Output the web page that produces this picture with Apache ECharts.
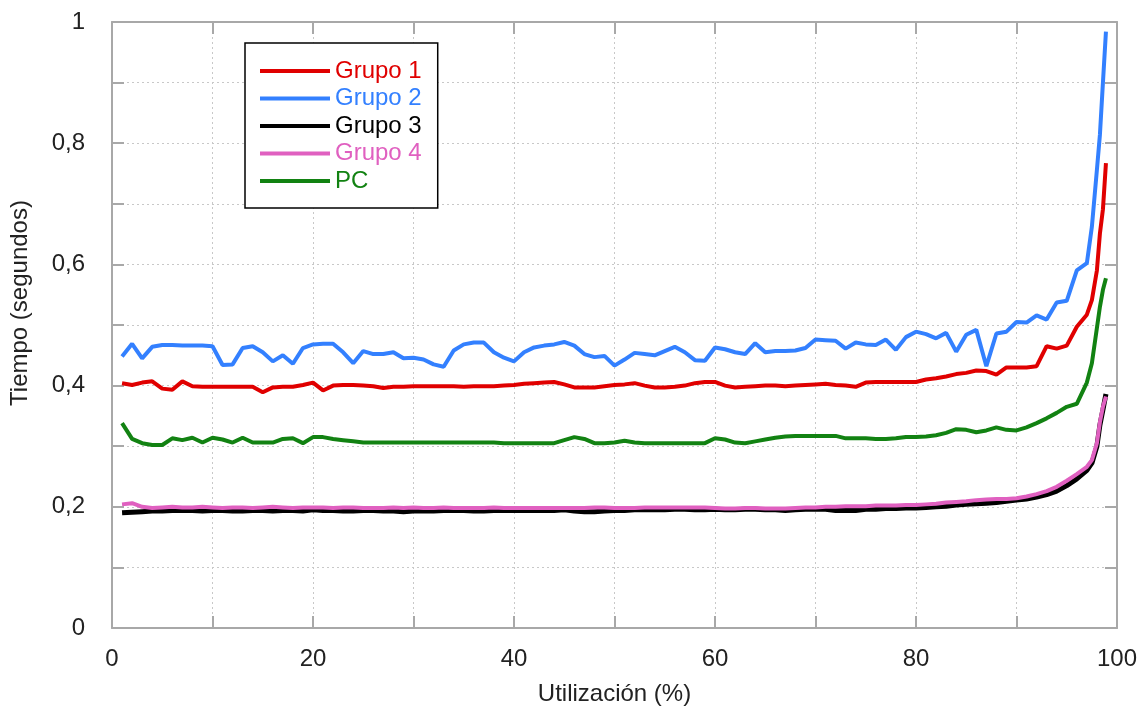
<!DOCTYPE html>
<html>
<head>
<meta charset="utf-8">
<script src="https://cdn.jsdelivr.net/npm/echarts@6.0.0/dist/echarts.min.js"></script>
<style>
  html, body { margin: 0; padding: 0; background: #fff; }
  #chart { width: 1144px; height: 713px; }
</style>
</head>
<body>
<div id="chart"></div>
<script>
// utilización (%) – shared x values
const xs = [1, 2, 3, 4, 5, 6, 7, 8, 9, 10, 11, 12, 13, 14, 15, 16, 17, 18, 19, 20,
  21, 22, 23, 24, 25, 26, 27, 28, 29, 30, 31, 32, 33, 34, 35, 36, 37, 38, 39, 40,
  41, 42, 43, 44, 45, 46, 47, 48, 49, 50, 51, 52, 53, 54, 55, 56, 57, 58, 59, 60,
  61, 62, 63, 64, 65, 66, 67, 68, 69, 70, 71, 72, 73, 74, 75, 76, 77, 78, 79, 80,
  81, 82, 83, 84, 85, 86, 87, 88, 89, 90, 91, 92, 93, 94, 95, 96, 97,
  97.5, 98, 98.3, 98.6, 98.9];

const grupo1 = [0.404, 0.401, 0.405, 0.407, 0.395, 0.393, 0.407, 0.399, 0.398, 0.398,
  0.398, 0.398, 0.398, 0.398, 0.389, 0.397, 0.398, 0.398, 0.401, 0.405,
  0.392, 0.400, 0.401, 0.401, 0.400, 0.399, 0.396, 0.398, 0.398, 0.399,
  0.399, 0.399, 0.399, 0.399, 0.398, 0.399, 0.399, 0.399, 0.400, 0.401,
  0.403, 0.404, 0.405, 0.406, 0.402, 0.397, 0.397, 0.397, 0.399, 0.401,
  0.402, 0.404, 0.400, 0.397, 0.397, 0.398, 0.400, 0.404, 0.406, 0.406,
  0.400, 0.397, 0.398, 0.399, 0.400, 0.400, 0.399, 0.400, 0.401, 0.402,
  0.403, 0.401, 0.400, 0.398, 0.405, 0.406, 0.406, 0.406, 0.406, 0.406,
  0.410, 0.412, 0.415, 0.419, 0.421, 0.425, 0.424, 0.418, 0.430, 0.430,
  0.430, 0.432, 0.465, 0.461, 0.466, 0.497, 0.517,
  0.541, 0.590, 0.651, 0.691, 0.767];

const grupo2 = [0.448, 0.469, 0.445, 0.464, 0.467, 0.467, 0.466, 0.466, 0.466, 0.465,
  0.434, 0.435, 0.462, 0.465, 0.455, 0.440, 0.450, 0.436, 0.462, 0.468,
  0.469, 0.469, 0.455, 0.437, 0.457, 0.452, 0.452, 0.455, 0.445, 0.446,
  0.443, 0.435, 0.431, 0.458, 0.468, 0.471, 0.471, 0.455, 0.446, 0.440,
  0.455, 0.463, 0.466, 0.468, 0.472, 0.466, 0.452, 0.447, 0.449, 0.433,
  0.443, 0.454, 0.452, 0.450, 0.457, 0.464, 0.455, 0.442, 0.441, 0.463,
  0.460, 0.455, 0.452, 0.470, 0.455, 0.457, 0.457, 0.458, 0.462, 0.476,
  0.475, 0.474, 0.461, 0.471, 0.468, 0.467, 0.476, 0.459, 0.480, 0.489,
  0.485, 0.478, 0.487, 0.456, 0.484, 0.492, 0.432, 0.486, 0.489, 0.505,
  0.504, 0.516, 0.509, 0.537, 0.540, 0.590, 0.602,
  0.662, 0.756, 0.814, 0.900, 0.984];

const grupo3 = [0.190, 0.191, 0.192, 0.193, 0.193, 0.194, 0.194, 0.194, 0.193, 0.194,
  0.194, 0.193, 0.193, 0.194, 0.194, 0.193, 0.194, 0.194, 0.193, 0.195,
  0.194, 0.194, 0.193, 0.193, 0.194, 0.194, 0.193, 0.193, 0.192, 0.193,
  0.193, 0.193, 0.194, 0.194, 0.194, 0.193, 0.193, 0.194, 0.194, 0.194,
  0.194, 0.194, 0.194, 0.194, 0.195, 0.193, 0.192, 0.192, 0.193, 0.194,
  0.194, 0.195, 0.195, 0.195, 0.195, 0.196, 0.196, 0.195, 0.195, 0.196,
  0.195, 0.195, 0.196, 0.196, 0.195, 0.195, 0.194, 0.195, 0.196, 0.196,
  0.196, 0.194, 0.194, 0.194, 0.196, 0.196, 0.197, 0.197, 0.198, 0.198,
  0.199, 0.200, 0.201, 0.203, 0.204, 0.205, 0.206, 0.207, 0.209, 0.211,
  0.213, 0.216, 0.220, 0.226, 0.235, 0.246, 0.260,
  0.272, 0.300, 0.335, 0.360, 0.386];

const grupo4 = [0.204, 0.206, 0.200, 0.198, 0.199, 0.200, 0.199, 0.199, 0.200, 0.199,
  0.198, 0.199, 0.199, 0.198, 0.199, 0.200, 0.199, 0.198, 0.199, 0.199,
  0.199, 0.198, 0.199, 0.199, 0.198, 0.198, 0.198, 0.199, 0.198, 0.199,
  0.198, 0.198, 0.199, 0.198, 0.198, 0.198, 0.198, 0.199, 0.198, 0.198,
  0.198, 0.198, 0.198, 0.198, 0.198, 0.198, 0.198, 0.199, 0.199, 0.198,
  0.198, 0.198, 0.199, 0.199, 0.199, 0.199, 0.199, 0.199, 0.199, 0.198,
  0.197, 0.197, 0.198, 0.198, 0.197, 0.197, 0.197, 0.198, 0.199, 0.199,
  0.200, 0.200, 0.201, 0.201, 0.201, 0.202, 0.202, 0.202, 0.203, 0.203,
  0.204, 0.205, 0.207, 0.208, 0.209, 0.211, 0.212, 0.213, 0.213, 0.214,
  0.217, 0.221, 0.226, 0.233, 0.243, 0.254, 0.266,
  0.277, 0.305, 0.340, 0.365, 0.382];

const pc = [0.338, 0.312, 0.305, 0.302, 0.302, 0.313, 0.310, 0.314, 0.306, 0.314,
  0.311, 0.306, 0.314, 0.306, 0.306, 0.306, 0.312, 0.313, 0.305, 0.315,
  0.315, 0.312, 0.310, 0.308, 0.306, 0.306, 0.306, 0.306, 0.306, 0.306,
  0.306, 0.306, 0.306, 0.306, 0.306, 0.306, 0.306, 0.306, 0.305, 0.305,
  0.305, 0.305, 0.305, 0.305, 0.310, 0.315, 0.312, 0.305, 0.305, 0.306,
  0.309, 0.306, 0.305, 0.305, 0.305, 0.305, 0.305, 0.305, 0.305, 0.313,
  0.311, 0.306, 0.305, 0.308, 0.311, 0.314, 0.316, 0.317, 0.317, 0.317,
  0.317, 0.317, 0.313, 0.313, 0.313, 0.312, 0.312, 0.313, 0.315, 0.315,
  0.316, 0.318, 0.322, 0.328, 0.327, 0.323, 0.326, 0.331, 0.327, 0.326,
  0.331, 0.338, 0.346, 0.355, 0.365, 0.370, 0.405,
  0.437, 0.495, 0.530, 0.558, 0.577];

const seriesNames = ['Grupo 1', 'Grupo 2', 'Grupo 3', 'Grupo 4', 'PC'];
const seriesColors = ['#e00000', '#3380ff', '#000000', '#e060c0', '#128212'];

const font = 'Arial, "Liberation Sans", sans-serif';
const frame = '#a8a8a8';

function pairs(ys) {
  return xs.map((x, i) => [x, ys[i]]);
}

function lineSeries(name, ys, color, width, z) {
  return {
    name: name,
    type: 'line',
    data: pairs(ys),
    showSymbol: false,
    symbol: 'none',
    z: z,
    lineStyle: { color: color, width: width },
    itemStyle: { color: color }
  };
}

// frame axes: drawn on all four sides, ticks pointing inwards
const frameLine = { show: true, onZero: false, lineStyle: { color: frame, width: 2 } };
const frameTick = { show: true, inside: true, length: 12, lineStyle: { color: frame, width: 2 } };
const dotted = { lineStyle: { color: '#c8c8c8', type: [2, 3], width: 1 } };

const chart = echarts.init(document.getElementById('chart'));

const option = {
  animation: false,
  backgroundColor: '#fff',
  textStyle: { fontFamily: font },
  grid: { left: 111, right: 27, top: 22, bottom: 85 },
  legend: {
    orient: 'vertical',
    left: 245,
    top: 43,
    icon: 'rect',
    itemWidth: 70,
    itemHeight: 4,
    itemGap: 3.5,
    padding: [16, 16, 15, 15],
    borderColor: '#000',
    borderWidth: 1.5,
    backgroundColor: '#fff',
    textStyle: { fontSize: 24, fontFamily: font },
    data: seriesNames.map((n, i) => ({ name: n, textStyle: { color: seriesColors[i] } }))
  },
  xAxis: [
    {
      type: 'value', min: 0, max: 100, interval: 10,
      name: 'Utilización (%)', nameLocation: 'middle', nameGap: 54,
      nameTextStyle: { fontSize: 24, color: '#222' },
      axisLine: frameLine,
      axisTick: frameTick,
      axisLabel: {
        fontSize: 24, color: '#222', margin: 19,
        formatter: v => (v % 20 === 0 ? String(v) : '')
      },
      splitLine: dotted
    },
    {
      type: 'value', min: 0, max: 100, interval: 10, position: 'top',
      axisLine: frameLine,
      axisTick: frameTick,
      axisLabel: { show: false },
      splitLine: { show: false }
    }
  ],
  yAxis: [
    {
      type: 'value', min: 0, max: 1, interval: 0.1,
      name: 'Tiempo (segundos)', nameLocation: 'middle', nameGap: 80,
      // title sits a little above the plot's middle
      nameTextStyle: { fontSize: 24, color: '#222', padding: [0, 0, 0, 44] },
      axisLine: frameLine,
      axisTick: frameTick,
      axisLabel: {
        fontSize: 24, color: '#222', margin: 27,
        formatter: v => {
          const t = Math.round(v * 10);
          if (t % 2 !== 0) return '';
          return String(t / 10).replace('.', ',');
        }
      },
      splitLine: dotted
    },
    {
      type: 'value', min: 0, max: 1, interval: 0.1, position: 'right',
      axisLine: frameLine,
      axisTick: frameTick,
      axisLabel: { show: false },
      splitLine: { show: false }
    }
  ],
  series: [
    lineSeries('PC', pc, seriesColors[4], 4, 2),
    lineSeries('Grupo 1', grupo1, seriesColors[0], 4, 3),
    lineSeries('Grupo 2', grupo2, seriesColors[1], 4, 4),
    lineSeries('Grupo 3', grupo3, seriesColors[2], 5, 5),
    lineSeries('Grupo 4', grupo4, seriesColors[3], 4, 6)
  ]
};

chart.setOption(option);
</script>
</body>
</html>
